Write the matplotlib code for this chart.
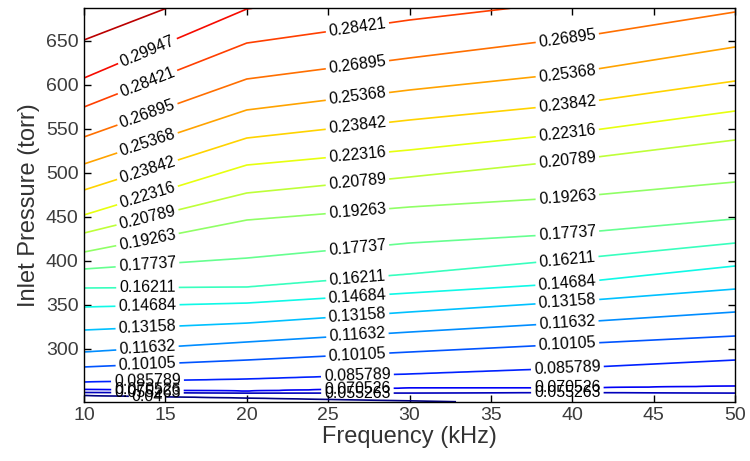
import numpy as np
import matplotlib
matplotlib.use("Agg")
import matplotlib.pyplot as plt
from matplotlib.colors import Normalize

plt.rcParams['font.family'] = ['Liberation Sans', 'DejaVu Sans']

# Frequency columns (kHz) at which the contour heights are tabulated
freq_cols = [10, 20, 30, 40, 50]

# Field levels and the inlet pressure (torr) where each level sits in every column
field_levels = [0.024737, 0.04, 0.055263, 0.070526, 0.085789, 0.10105, 0.11632,
                0.13158, 0.14684, 0.16211, 0.17737, 0.19263, 0.20789, 0.22316,
                0.23842, 0.25368, 0.26895, 0.28421, 0.29947, 0.31474, 0.33]
level_pressure = [
    [236.0, 234.0, 232.0, 226.0, 222.0],
    [246.6, 243.7, 240.5, 237.0, 235.0],
    [250.0, 249.4, 249.4, 249.9, 249.4],
    [253.4, 251.6, 255.1, 255.1, 257.3],
    [261.9, 265.3, 271.0, 277.8, 286.9],
    [279.0, 286.9, 296.0, 305.1, 314.2],
    [296.0, 307.4, 318.7, 329.5, 341.5],
    [321.0, 328.9, 341.5, 353.4, 367.6],
    [347.2, 351.7, 363.1, 374.4, 393.8],
    [368.8, 369.9, 384.7, 401.7, 419.9],
    [390.4, 402.8, 419.9, 430.8, 447.3],
    [409.7, 446.1, 460.9, 472.2, 489.3],
    [431.3, 476.8, 495.0, 514.3, 537.1],
    [451.8, 508.6, 525.7, 545.0, 570.0],
    [480.2, 539.3, 559.8, 577.9, 604.1],
    [509.8, 571.2, 593.9, 613.3, 642.8],
    [540.5, 606.4, 630.3, 653.1, 682.6],
    [574.6, 647.3, 673.5, 695.0, 717.0],
    [607.5, 686.0, 710.0, 730.0, 750.0],
    [650.8, 722.0, 745.0, 765.0, 785.0],
    [690.0, 760.0, 780.0, 800.0, 820.0],
]

# Contour levels drawn
contour_levels = [0.04, 0.055263, 0.070526, 0.085789, 0.10105, 0.11632, 0.13158,
                  0.14684, 0.16211, 0.17737, 0.19263, 0.20789, 0.22316, 0.23842,
                  0.25368, 0.26895, 0.28421, 0.29947, 0.31474]

# Frequencies at which each row of labels is placed
label_freqs = [13.9, 26.8, 39.7]
labelled_levels = contour_levels[:-1]

x_range = (10, 50)
y_range = (239.5, 686.8)

# Build the field on a fine grid
xf = np.linspace(x_range[0], x_range[1], 401)
yf = np.linspace(y_range[0], y_range[1], 700)
table = np.array(level_pressure)
Z = np.empty((yf.size, xf.size))
for i, xv in enumerate(xf):
    heights = np.array([np.interp(xv, freq_cols, row) for row in table])
    Z[:, i] = np.interp(yf, heights, field_levels)
X, Y = np.meshgrid(xf, yf)

fig = plt.figure(figsize=(7.5, 4.61), dpi=100)
ax = fig.add_axes([0.112, 0.1286, 0.868, 0.8534])

norm = Normalize(vmin=0.04, vmax=0.33)
cs = ax.contour(X, Y, Z, levels=contour_levels, cmap='jet', norm=norm,
                linewidths=1.2)

# Label positions follow each contour at the chosen frequencies
manual = []
for fx in label_freqs:
    for lv in labelled_levels:
        k = field_levels.index(lv)
        fy = float(np.interp(fx, freq_cols, table[k]))
        if y_range[0] + 4 < fy < y_range[1] - 6:
            manual.append((fx, fy))

ax.clabel(cs, levels=labelled_levels, manual=manual, inline=True,
          inline_spacing=3, fontsize=11.5, colors='black',
          fmt=lambda v: f"{v:.5g}")

ax.set_xlim(*x_range)
ax.set_ylim(*y_range)
ax.set_xticks(np.arange(10, 51, 5))
ax.set_yticks(np.arange(300, 651, 50))
ax.tick_params(direction='in', top=True, right=True, length=5, width=1,
               labelsize=14, labelcolor='#3c3c3c', pad=4)
for sp in ax.spines.values():
    sp.set_linewidth(1.0)
    sp.set_color('black')

ax.set_xlabel('Frequency (kHz)', fontsize=17, color='#333333', labelpad=1)
ax.set_ylabel('Inlet Pressure (torr)', fontsize=17, color='#333333', labelpad=4)

fig.savefig('out.png', dpi=100)
